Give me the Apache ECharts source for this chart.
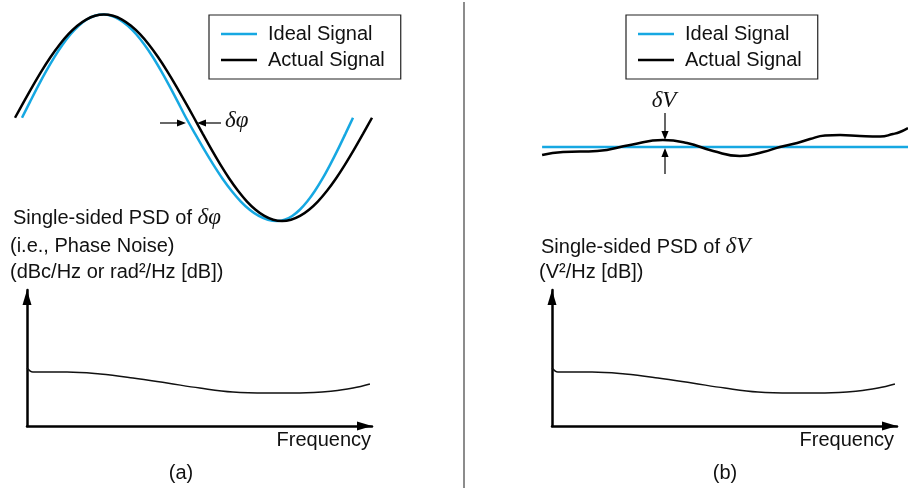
<!DOCTYPE html>
<html>
<head>
<meta charset="utf-8">
<script src="https://cdn.jsdelivr.net/npm/echarts@6/dist/echarts.min.js"></script>
<style>
html,body{margin:0;padding:0;background:#fff;}
#c{width:908px;height:488px;}
</style>
</head>
<body>
<div id="c"></div>
<script>
// ---------- data ----------
const seriesNames = ['Ideal Signal', 'Actual Signal'];

// (a) phase-noise example: sine samples (amplitude) and their time positions
const sineAmp = [0, 0.156, 0.309, 0.454, 0.588, 0.707, 0.809, 0.891, 0.951, 0.988, 1,
  0.988, 0.951, 0.891, 0.809, 0.707, 0.588, 0.454, 0.309, 0.156, 0,
  -0.156, -0.309, -0.454, -0.588, -0.707, -0.809, -0.891, -0.951, -0.988, -1,
  -0.988, -0.951, -0.891, -0.809, -0.707, -0.588, -0.454, -0.309, -0.156, 0];
const idealTimeA = [0, 0.0245, 0.0489, 0.0734, 0.0979, 0.1224, 0.1468, 0.1713, 0.1958, 0.2202, 0.2447,
  0.2698, 0.2948, 0.3199, 0.3450, 0.3701, 0.3952, 0.4202, 0.4453, 0.4704, 0.4955,
  0.5230, 0.5505, 0.5780, 0.6054, 0.6329, 0.6604, 0.6879, 0.7154, 0.7429, 0.7704,
  0.7934, 0.8163, 0.8393, 0.8622, 0.8852, 0.9082, 0.9311, 0.9541, 0.9770, 1.0];
const actualTimeA = [-0.0211, 0.0058, 0.0327, 0.0595, 0.0864, 0.1133, 0.1402, 0.1671, 0.1939, 0.2208, 0.2477,
  0.2749, 0.3021, 0.3293, 0.3565, 0.3837, 0.4108, 0.4380, 0.4652, 0.4924, 0.5196,
  0.5462, 0.5728, 0.5994, 0.6260, 0.6526, 0.6791, 0.7057, 0.7323, 0.7589, 0.7855,
  0.8127, 0.8399, 0.8671, 0.8943, 0.9215, 0.9486, 0.9758, 1.0030, 1.0302, 1.0574];

// (b) amplitude-noise example
const idealTimeB = [0.003, 1.0];
const idealVoltB = [0, 0];
const actualTimeB = [0.003, 0.06, 0.153, 0.243, 0.332, 0.398, 0.469, 0.542, 0.605, 0.651, 0.698, 0.733, 0.774, 0.815, 0.869, 0.924, 0.959, 0.978, 1.0];
const actualVoltB = [-0.16, -0.10, -0.08, 0.04, 0.14, 0.08, -0.08, -0.18, -0.10, 0, 0.08, 0.16, 0.23, 0.24, 0.22, 0.21, 0.26, 0.30, 0.38];

// PSD sketches (same shape in both panels)
const psdFreq = [0, 0.017, 0.038, 0.116, 0.212, 0.307, 0.406, 0.501, 0.597, 0.696, 0.791, 0.887, 0.945, 0.994];
const psdLevel = [4.26, 3.97, 3.97, 3.97, 3.82, 3.53, 3.16, 2.79, 2.50, 2.43, 2.43, 2.57, 2.79, 3.09];

// texts
const psdTitleA = ['Single-sided PSD of {g|δφ}', '(i.e., Phase Noise)', '(dBc/Hz or rad²/Hz [dB])'];
const psdTitleB = ['Single-sided PSD of {g|δV}', '(V²/Hz [dB])'];
const xAxisName = 'Frequency';
const panelLabels = ['(a)', '(b)'];
const phaseLabel = 'δφ';
const voltLabel = 'δV';

// ---------- helpers ----------
const zip = (xs, ys) => xs.map((x, i) => [x, ys[i]]);
const BLUE = '#16a8e2';
const SANS = '"Liberation Sans", Arial, sans-serif';
const SERIF = '"Liberation Serif", "Times New Roman", serif';

const hiddenAxis = (min, max) => ({type: 'value', min, max, show: false});
const arrowAxis = (min, max) => ({
  type: 'value', min, max,
  axisLine: {show: true, onZero: false, symbol: ['none', 'triangle'], symbolSize: [9, 15], symbolOffset: [0, -7.5],
    lineStyle: {color: '#000', width: 2.5}},
  axisTick: {show: false}, axisLabel: {show: false}, splitLine: {show: false}
});

function textEl(x, y, text, opts) {
  return {type: 'text', silent: true, style: Object.assign({
    x, y, text, fontFamily: SANS, fontSize: 20, fill: '#111', verticalAlign: 'middle', align: 'left',
    rich: {g: {fontFamily: SERIF, fontStyle: 'italic', fontSize: 23, fill: '#111'}}
  }, opts || {})};
}
function hArrow(x1, x2, y) { // arrow from x1 pointing to x2
  const d = x2 > x1 ? 1 : -1;
  return [
    {type: 'line', silent: true, shape: {x1, y1: y, x2: x2 - d * 6, y2: y}, style: {stroke: '#000', lineWidth: 1.2}},
    {type: 'polygon', silent: true, shape: {points: [[x2, y], [x2 - d * 9, y - 3.6], [x2 - d * 9, y + 3.6]]}, style: {fill: '#000'}}
  ];
}
function vArrow(x, y1, y2) {
  const d = y2 > y1 ? 1 : -1;
  return [
    {type: 'line', silent: true, shape: {x1: x, y1, x2: x, y2: y2 - d * 6}, style: {stroke: '#000', lineWidth: 1.2}},
    {type: 'polygon', silent: true, shape: {points: [[x, y2], [x - 3.6, y2 - d * 9], [x + 3.6, y2 - d * 9]]}, style: {fill: '#000'}}
  ];
}

const legendBase = {
  orient: 'vertical', top: 15, itemWidth: 36, itemHeight: 2.5, itemGap: 4, icon: 'rect',
  padding: [8, 16, 8, 12], borderColor: '#222', borderWidth: 1.2, borderRadius: 0,
  backgroundColor: '#fff', data: seriesNames, selectedMode: false,
  textStyle: {fontFamily: SANS, fontSize: 20, color: '#111', lineHeight: 22, padding: [0, 0, 0, 6]}
};

const lineSeries = (name, data, color, width, gi, smooth) => ({
  name, type: 'line', xAxisIndex: gi, yAxisIndex: gi, data, smooth: smooth, showSymbol: false, symbol: 'none',
  lineStyle: {color, width}, itemStyle: {color}, silent: true, animation: false, clip: false
});

const chart = echarts.init(document.getElementById('c'), null, {renderer: 'canvas'});
chart.setOption({
  animation: false,
  backgroundColor: '#fff',
  legend: [
    Object.assign({left: 209}, legendBase),
    Object.assign({left: 626}, legendBase)
  ],
  grid: [
    {left: 5.45, top: 14.5, width: 380.65, height: 206.5},
    {left: 541, top: 97, width: 367, height: 100},
    {left: 27, top: 290, width: 345, height: 136},
    {left: 552, top: 290, width: 345, height: 136}
  ],
  xAxis: [
    Object.assign({gridIndex: 0}, hiddenAxis(-0.05, 1.1)),
    Object.assign({gridIndex: 1}, hiddenAxis(0, 1)),
    Object.assign({gridIndex: 2}, arrowAxis(0, 1)),
    Object.assign({gridIndex: 3}, arrowAxis(0, 1))
  ],
  yAxis: [
    Object.assign({gridIndex: 0}, hiddenAxis(-1, 1)),
    Object.assign({gridIndex: 1}, hiddenAxis(-1, 1)),
    Object.assign({gridIndex: 2}, arrowAxis(0, 10)),
    Object.assign({gridIndex: 3}, arrowAxis(0, 10))
  ],
  series: [
    lineSeries(seriesNames[0], zip(idealTimeA, sineAmp), BLUE, 2.5, 0, 0.3),
    lineSeries(seriesNames[1], zip(actualTimeA, sineAmp), '#000', 2.5, 0, 0.3),
    lineSeries(seriesNames[0], zip(idealTimeB, idealVoltB), BLUE, 2.5, 1, false),
    lineSeries(seriesNames[1], zip(actualTimeB, actualVoltB), '#000', 2.5, 1, 0.5),
    lineSeries('PSD a', zip(psdFreq, psdLevel), '#111', 1.5, 2, 0.4),
    lineSeries('PSD b', zip(psdFreq, psdLevel), '#111', 1.5, 3, 0.4)
  ],
  graphic: [
    {type: 'line', silent: true, shape: {x1: 464, y1: 2, x2: 464, y2: 488}, style: {stroke: '#666', lineWidth: 1.5}},
    ...hArrow(160, 186, 123),
    ...hArrow(221, 197, 123),
    textEl(225, 121, phaseLabel, {fontFamily: SERIF, fontStyle: 'italic', fontSize: 23}),
    ...vArrow(665, 113, 140),
    ...vArrow(665, 174, 148),
    textEl(664, 101, voltLabel, {fontFamily: SERIF, fontStyle: 'italic', fontSize: 23, align: 'center'}),
    textEl(13, 218, psdTitleA[0]),
    textEl(10, 246, psdTitleA[1]),
    textEl(10, 272, psdTitleA[2]),
    textEl(541, 247, psdTitleB[0]),
    textEl(539, 272, psdTitleB[1]),
    textEl(371, 440, xAxisName, {align: 'right'}),
    textEl(894, 440, xAxisName, {align: 'right'}),
    textEl(181, 473, panelLabels[0], {align: 'center'}),
    textEl(725, 473, panelLabels[1], {align: 'center'})
  ]
});
</script>
</body>
</html>
